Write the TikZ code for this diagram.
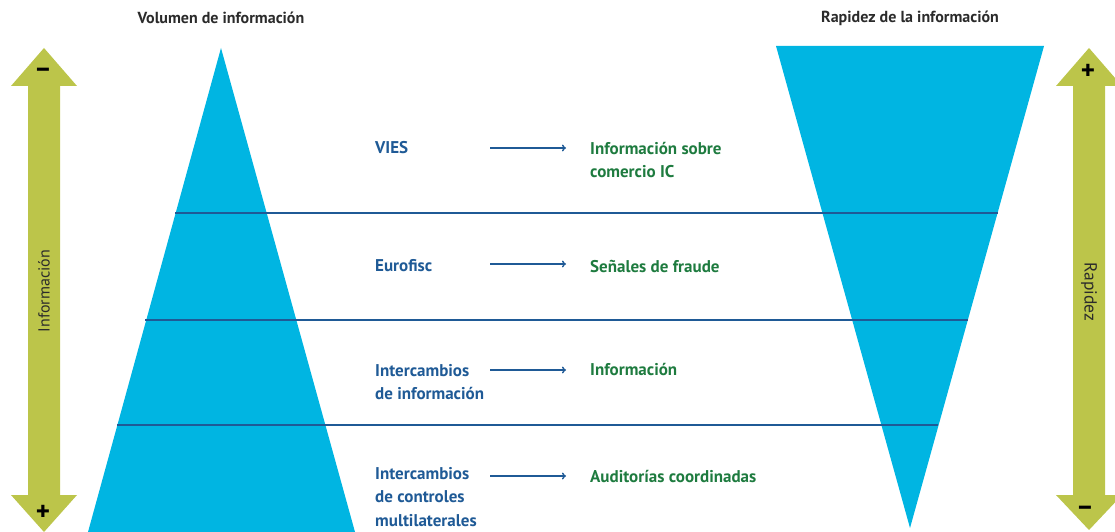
\documentclass[tikz,border=0pt]{standalone}
\usepackage{fontspec}
\setmainfont{PT Sans}
\usetikzlibrary{arrows.meta}
\definecolor{cyanfill}{HTML}{00B5E2}
\definecolor{olive}{HTML}{BCC54A}
\definecolor{darkblue}{HTML}{1F5A96}
\definecolor{darkgreen}{HTML}{1E7B3F}
\definecolor{title}{HTML}{2B2B2B}
\tikzset{
	src/.style={anchor=west, align=left, inner sep=0pt, text=darkblue, font=\fontsize{17}{23.5}\selectfont\bfseries},
	dst/.style={anchor=west, align=left, inner sep=0pt, text=darkgreen, font=\fontsize{17}{23.5}\selectfont\bfseries},
	flow/.style={-{To[length=4pt,width=7pt]}, darkblue, line width=1.4pt},
	level/.style={darkblue, line width=1.3pt},
	sign/.style={inner sep=0pt, font=\fontsize{27}{27}\selectfont\bfseries}
}
\begin{document}
\begin{tikzpicture}[x=1pt, y=-1pt]
	\useasboundingbox (0,0) rectangle (1115,532);
	
	% triangles
	\fill[cyanfill] (221,48) -- (355,532) -- (88,532) -- cycle;
	\fill[cyanfill] (776,46) -- (1044,46) -- (910,528) -- cycle;
	
	% double arrows
	\fill[olive] (44,48) -- (77,86) -- (60,86) -- (60,495) -- (77,495) -- (44,532) -- (11,495) -- (28,495) -- (28,86) -- (11,86) -- cycle;
	\fill[olive] (1089,48) -- (1122,86) -- (1105,86) -- (1105,495) -- (1122,495) -- (1089,530) -- (1056,495) -- (1073,495) -- (1073,86) -- (1056,86) -- cycle;
	
	\node[sign] (lminus) at (43,73) {–};
	\node[sign] (lplus) at (43,513) {+};
	\node[sign] (rplus) at (1088,72) {+};
	\node[sign] (rminus) at (1085,511) {–};
	
	\node[rotate=90, text=title, font=\fontsize{16}{16}\selectfont] (info) at (44,291) {Información};
	\node[rotate=-90, text=title, font=\fontsize{17.5}{17.5}\selectfont] (rapid) at (1089,292) {Rapidez};
	
	\node[text=title, font=\fontsize{16}{16}\selectfont\bfseries] (vol) at (221,18) {Volumen de información};
	\node[text=title, font=\fontsize{16}{16}\selectfont\bfseries] (rap) at (910,18) {Rapidez de la información};
	
	% separating lines
	\draw[level] (175,213) -- (998,213);
	\draw[level] (145,320) -- (968,320);
	\draw[level] (117,425) -- (938,425);
	
	% rows
	\node[src] (vies) at (375,148) {VIES};
	\node[dst] (comercio) at (590,160) {Información sobre\\comercio IC};
	\node[src] (eurofisc) at (375,266) {Eurofisc};
	\node[dst] (fraude) at (590,266) {Señales de fraude};
	\node[src] (interinfo) at (375,382) {Intercambios\\de información};
	\node[dst] (infor) at (590,369) {Información};
	\node[src] (controles) at (375,497) {Intercambios\\de controles\\multilaterales};
	\node[dst] (auditorias) at (590,476) {Auditorías coordinadas};
	
	\foreach \y [count=\i] in {148,264,370,476}{
		\coordinate (a\i) at (490,\y);
		\coordinate (b\i) at (566,\y);
		\draw[flow] (a\i) -- (b\i);
	}
\end{tikzpicture}
\end{document}
